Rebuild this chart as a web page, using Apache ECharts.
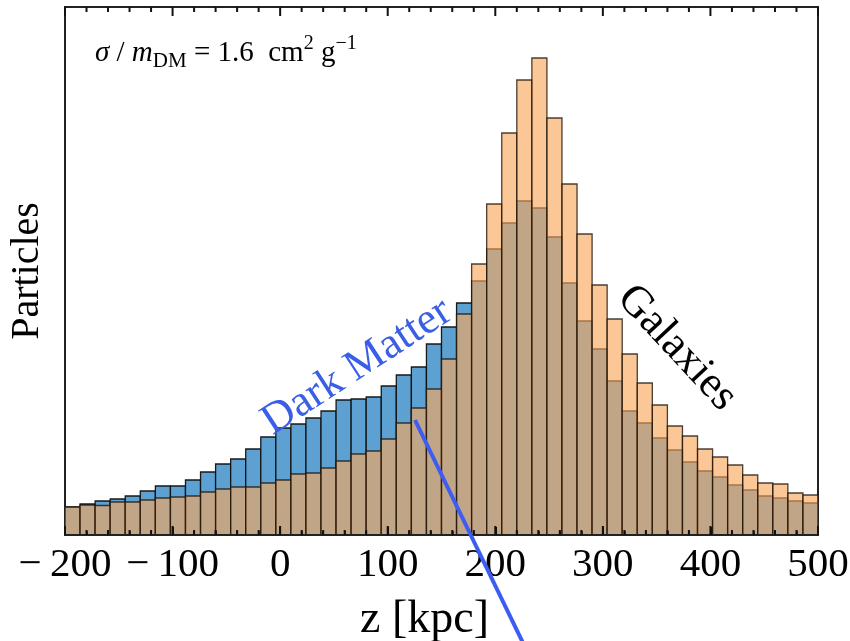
<!DOCTYPE html>
<html>
<head>
<meta charset="utf-8">
<script src="https://cdn.jsdelivr.net/npm/echarts@6/dist/echarts.min.js"></script>
<style>
  html, body { margin: 0; padding: 0; background: #fff; }
  #chart { width: 850px; height: 641px; }
</style>
</head>
<body>
<div id="chart"></div>
<script>
// Histogram binning along z (kpc)
const binStart = -200;
const binWidth = 14;

// Particle counts per bin (arbitrary units)
const darkMatter = [
  28, 31, 34, 36, 39, 44, 49, 49, 55, 63,
  71, 76, 86, 98, 107, 111, 117, 124, 135, 136,
  138, 149, 160, 168, 191, 208, 232, 254, 286, 312,
  334, 327, 298, 252, 214, 186, 154, 124, 112, 97,
  85, 73, 64, 58, 50, 45, 39, 37, 34, 32
];
const galaxies = [
  28, 30, 29.5, 33, 33, 35, 37, 38, 39, 43,
  46, 48, 48, 52, 55, 61, 62, 67, 74, 81,
  84, 96, 112, 127, 146, 176, 221, 271, 331, 402,
  455, 477, 417, 351, 301, 250, 216, 181, 152, 130,
  109, 99, 86, 78, 70, 60, 52, 51, 42, 40
];

// Axis settings
const xMin = -200, xMax = 500, xStep = 100, xMinorSteps = 5;
const yMax = 528;

const serif = '"Liberation Serif", "DejaVu Serif", serif';

function toBins(counts) {
  return counts.map((c, i) => [binStart + i * binWidth, binStart + (i + 1) * binWidth, c]);
}

function barRenderer(fill, stroke) {
  return function (params, api) {
    const top = api.coord([api.value(0), api.value(2)]);
    const base = api.coord([api.value(1), 0]);
    return {
      type: 'rect',
      shape: { x: top[0], y: top[1], width: base[0] - top[0], height: base[1] - top[1] },
      style: { fill: fill, stroke: stroke, lineWidth: 1.3 }
    };
  };
}

const chart = echarts.init(document.getElementById('chart'), null, { renderer: 'canvas' });

const tickLabel = v => (v < 0 ? '\u2212\u2009' + Math.abs(v) : String(v));

const annotations = [
  {
    type: 'text', left: 95, top: 34, z: 10,
    style: {
      text: '{i|\u03c3}{n| / }{i|m}{sub|DM}{n| = 1.6  cm}{sup|2}{n| g}{sup|\u22121}',
      rich: {
        n: { fontFamily: serif, fontSize: 29, lineHeight: 38, fill: '#000' },
        i: { fontFamily: serif, fontSize: 29, fontStyle: 'italic', lineHeight: 38, fill: '#000' },
        sub: { fontFamily: serif, fontSize: 21, verticalAlign: 'bottom', lineHeight: 20, fill: '#000' },
        sup: { fontFamily: serif, fontSize: 20, verticalAlign: 'top', lineHeight: 22, fill: '#000' }
      }
    }
  },
  {
    type: 'text', x: 357, y: 367, rotation: 33 * Math.PI / 180, z: 10,
    style: { text: 'Dark Matter', fontFamily: serif, fontSize: 44, fill: '#3a5ee6', align: 'center', verticalAlign: 'middle' }
  },
  {
    type: 'text', x: 677, y: 348, rotation: -47 * Math.PI / 180, z: 10,
    style: { text: 'Galaxies', fontFamily: serif, fontSize: 44, fill: '#000', align: 'center', verticalAlign: 'middle' }
  },
  {
    type: 'line', z: 10,
    shape: { x1: 415, y1: 420, x2: 524, y2: 645 },
    style: { stroke: '#3d5cf2', lineWidth: 4 }
  }
];

chart.setOption({
  animation: false,
  backgroundColor: '#fff',
  grid: {
    left: 65, right: 32, top: 7, bottom: 106,
    containLabel: false, outerBoundsMode: 'none',
    show: true, borderColor: '#222', borderWidth: 2, backgroundColor: 'transparent'
  },
  xAxis: {
    type: 'value', min: xMin, max: xMax, interval: xStep, position: 'bottom', z: 5,
    name: 'z [kpc]',
    nameLocation: 'middle',
    nameGap: 62,
    nameTextStyle: { fontFamily: serif, fontSize: 46, color: '#000', padding: [0, 34, 0, 0] },
    axisLine: { show: true, onZero: false, lineStyle: { color: '#222', width: 2 } },
    axisTick: { show: true, inside: true, length: 8, lineStyle: { color: '#111', width: 2 } },
    minorTick: { show: true, splitNumber: xMinorSteps, length: 4, lineStyle: { color: '#111', width: 1.5 } },
    splitLine: { show: false },
    axisLabel: { show: true, margin: 10, fontFamily: serif, fontSize: 41, color: '#000', formatter: tickLabel }
  },
  yAxis: {
    type: 'value', min: 0, max: yMax, position: 'left',
    name: 'Particles', nameLocation: 'middle', nameGap: 18, nameRotate: 90,
    nameTextStyle: { fontFamily: serif, fontSize: 40, color: '#000' },
    axisLine: { show: false }, axisTick: { show: false },
    axisLabel: { show: false }, splitLine: { show: false }
  },
  series: [
    {
      name: 'Dark Matter', type: 'custom',
      renderItem: barRenderer('rgb(92,161,210)', 'rgba(15,15,15,0.95)'),
      encode: { x: [0, 1], y: 2 },
      data: toBins(darkMatter), clip: true, z: 2
    },
    {
      name: 'Galaxies', type: 'custom',
      renderItem: barRenderer('rgba(250,168,92,0.64)', 'rgba(30,20,10,0.8)'),
      encode: { x: [0, 1], y: 2 },
      data: toBins(galaxies), clip: true, z: 3
    }
  ],
  graphic: annotations
});

// Frame ticks (bottom and top edges), placed with the axis scale
const frameTicks = [];
const nTicks = (xMax - xMin) / xStep * xMinorSteps;
for (let k = 0; k <= nTicks; k++) {
  const z = xMin + k * xStep / xMinorSteps;
  const major = k % xMinorSteps === 0;
  const len = major ? 9 : 5;
  const pb = chart.convertToPixel({ gridIndex: 0 }, [z, 0]);
  const pt = chart.convertToPixel({ gridIndex: 0 }, [z, yMax]);
  const st = { stroke: '#111', lineWidth: 2 };
  frameTicks.push({ type: 'line', z: 20, shape: { x1: pb[0], y1: pb[1], x2: pb[0], y2: pb[1] - len }, style: st });
  frameTicks.push({ type: 'line', z: 20, shape: { x1: pt[0], y1: pt[1], x2: pt[0], y2: pt[1] + len }, style: st });
}
chart.setOption({ graphic: annotations.concat(frameTicks) });
</script>
</body>
</html>
